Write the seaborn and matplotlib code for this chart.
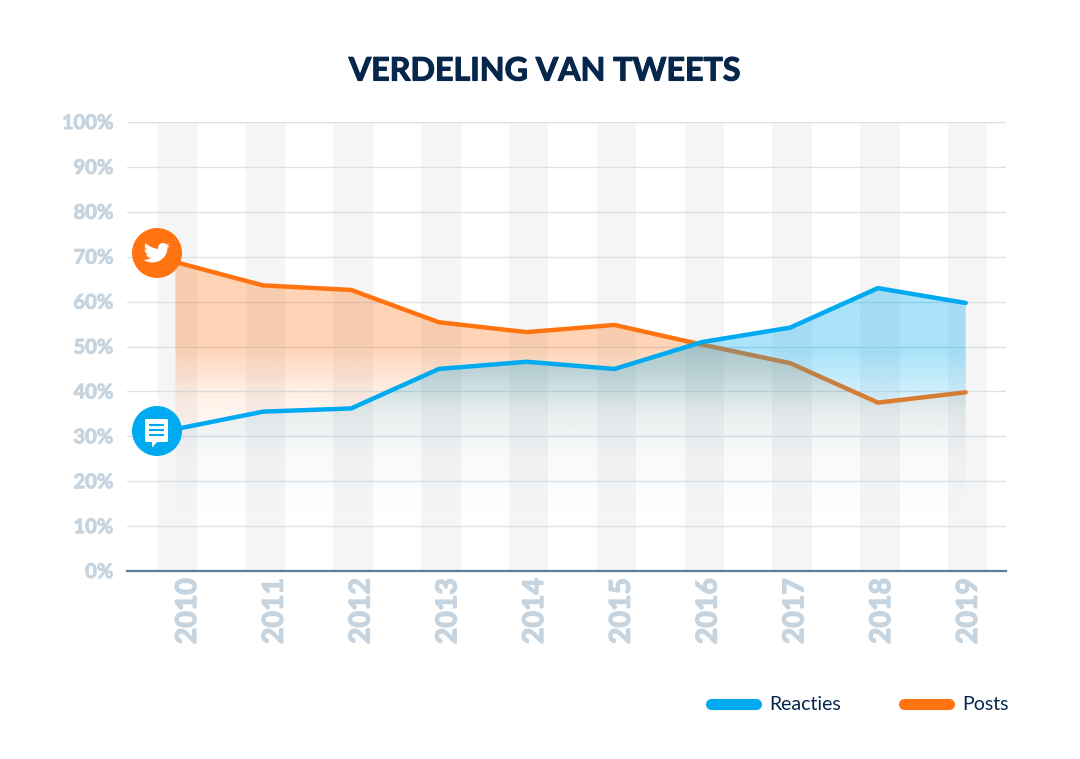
import numpy as np
import pandas as pd
import matplotlib
matplotlib.use("Agg")
import matplotlib.pyplot as plt
import matplotlib.patheffects as pe
import seaborn as sns
from matplotlib.patches import Circle, FancyBboxPatch, PathPatch, Polygon
from matplotlib.path import Path
from matplotlib.lines import Line2D
from matplotlib.transforms import Affine2D, ScaledTranslation

years = [2010, 2011, 2012, 2013, 2014, 2015, 2016, 2017, 2018, 2019]
posts = [68.8, 63.6, 62.6, 55.4, 53.2, 54.8, 50.4, 46.3, 37.5, 39.8]
reacties = [31.6, 35.5, 36.2, 45.0, 46.6, 45.0, 51.0, 54.2, 63.0, 59.7]
y_ticks = [0, 10, 20, 30, 40, 50, 60, 70, 80, 90, 100]
title_text = "VERDELING VAN TWEETS"

ORANGE = "#FF7411"
BLUE = "#00AAF0"
NAVY = "#06274B"
TICK = "#C6D4E0"
GRID = "#D8E2EB"
BAND = "#F5F5F6"
AXIS = "#5F7D99"

W, H = 1080, 759
sns.set_theme(style="white")
plt.rcParams["font.family"] = ["Lato", "DejaVu Sans"]

fig = plt.figure(figsize=(W / 100, H / 100), dpi=100, facecolor="white")
ax = fig.add_axes([127 / W, 1 - 571 / H, (1006 - 127) / W, (571 - 122) / H])
XLIM = (2009.448, 2019.459)
ax.set_xlim(*XLIM)
ax.set_ylim(0, 100)
ax.set_facecolor("white")

for yr in years:
    ax.axvspan(yr - 0.225 + 0.023, yr + 0.225 + 0.023, color=BAND, lw=0, zorder=0)
for t in y_ticks[1:]:
    ax.axhline(t, color=GRID, lw=1.0, zorder=1)


def gradient_fill(values, color, stops, z):
    """Fill under a series with a vertical alpha gradient (stops: (pct, alpha))."""
    ys = np.linspace(0, 100, 450)
    sp = sorted(stops)
    alpha = np.interp(ys, [s[0] for s in sp], [s[1] for s in sp])
    rgb = matplotlib.colors.to_rgb(color)
    img = np.zeros((450, 2, 4))
    img[..., :3] = rgb
    img[..., 3] = alpha[:, None]
    im = ax.imshow(img, origin="lower", extent=[years[0], years[-1], 0, 100],
                   aspect="auto", zorder=z, interpolation="bilinear")
    poly = ax.fill_between(years, 0, values, color="none", lw=0, zorder=z)
    clip = PathPatch(poly.get_paths()[0], transform=ax.transData, fc="none", ec="none")
    ax.add_patch(clip)
    im.set_clip_path(clip)


frame = pd.DataFrame({"year": years * 2,
                      "pct": posts + reacties,
                      "serie": ["Posts"] * 10 + ["Reacties"] * 10})

gradient_fill(posts, ORANGE,
              [(0, 0), (15, 0), (27, 0.02), (35.4, 0.07), (41, 0.13), (45.5, 0.22), (50.3, 0.31), (100, 0.31)], 2)
sns.lineplot(data=frame[frame.serie == "Posts"], x="year", y="pct", color=ORANGE, lw=3.2,
             ax=ax, zorder=3, solid_capstyle="round", errorbar=None)
gradient_fill(reacties, BLUE,
              [(0, 0), (9, 0), (15.8, 0.01), (27, 0.035), (35.4, 0.09), (42.5, 0.23), (49, 0.33), (100, 0.33)], 4)
sns.lineplot(data=frame[frame.serie == "Reacties"], x="year", y="pct", color=BLUE, lw=3.2,
             ax=ax, zorder=5, solid_capstyle="round", errorbar=None)
ax.set_xlim(*XLIM)
ax.set_ylim(0, 100)

sns.despine(ax=ax, left=True, right=True, top=True)
ax.spines["bottom"].set_color(AXIS)
ax.spines["bottom"].set_linewidth(1.6)
ax.spines["bottom"].set_zorder(6)
ax.set_xlabel("")
ax.set_ylabel("")
ax.set_xticks(years)
heavy_tick = [pe.withStroke(linewidth=1.0, foreground=TICK)]
ax.set_xticklabels([str(y) for y in years], rotation=90, fontsize=20.5, fontweight="bold",
                   color=TICK, fontfamily="Lato", path_effects=heavy_tick)
ax.set_yticks(y_ticks)
ax.set_yticklabels([f"{t}%" for t in y_ticks], fontsize=14.5, fontweight="bold",
                   color=TICK, fontfamily="Lato", path_effects=[pe.withStroke(linewidth=0.7, foreground=TICK)])
ax.tick_params(axis="both", length=0)
ax.tick_params(axis="x", pad=5)
ax.tick_params(axis="y", pad=10)
for i, lab in enumerate(ax.get_xticklabels()):
    dx_px = 12.5 - i * 1.05
    lab.set_transform(lab.get_transform() + ScaledTranslation(dx_px / 100, 0, fig.dpi_scale_trans))
for lab in ax.get_yticklabels():
    lab.set_transform(lab.get_transform() + ScaledTranslation(0, 1 / 100, fig.dpi_scale_trans))

fig.text(545 / W, 1 - 71 / H, title_text, ha="center", va="center", fontsize=23.2,
         fontweight="bold", color=NAVY, fontfamily="Lato",
         path_effects=[pe.withStroke(linewidth=0.8, foreground=NAVY)])

# icons, drawn in reference pixel coordinates
px = Affine2D().scale(1 / W, -1 / H).translate(0, 1) + fig.transFigure


def add(patch, z=10):
    patch.set_transform(px)
    patch.set_zorder(z)
    patch.set_clip_on(False)
    fig.add_artist(patch)


add(Circle((157, 253), 25, fc=ORANGE, ec="none"))
add(Circle((157, 431), 25, fc=BLUE, ec="none"))

M, C4, L, Z = Path.MOVETO, Path.CURVE4, Path.LINETO, Path.CLOSEPOLY
bird = [
    (M, (170.0, 245.5)),
    (L, (167.0, 246.3)), (L, (169.3, 243.2)), (L, (166.5, 244.6)),
    (C4, (164.5, 241.8)), (C4, (159.0, 242.5)), (C4, (158.2, 246.8)),
    (C4, (158.0, 247.5)), (C4, (158.0, 248.0)), (C4, (158.1, 248.8)),
    (C4, (153.5, 248.5)), (C4, (149.5, 246.5)), (C4, (145.5, 243.2)),
    (C4, (144.3, 245.8)), (C4, (145.0, 248.3)), (C4, (146.8, 250.0)),
    (L, (144.5, 249.5)),
    (C4, (144.8, 252.0)), (C4, (146.0, 253.5)), (C4, (148.3, 254.4)),
    (L, (146.0, 254.6)),
    (C4, (147.0, 256.8)), (C4, (148.7, 257.6)), (C4, (150.7, 257.8)),
    (C4, (149.0, 259.3)), (C4, (146.5, 260.0)), (C4, (143.5, 259.8)),
    (C4, (148.0, 263.0)), (C4, (155.0, 263.5)), (C4, (160.0, 260.5)),
    (C4, (165.0, 257.5)), (C4, (168.0, 252.0)), (C4, (167.3, 248.0)),
    (L, (170.0, 245.5)),
    (Z, (170.0, 245.5)),
]
add(PathPatch(Path([p for _, p in bird], [c for c, _ in bird]), fc="white", ec="none"), 11)

bubble = FancyBboxPatch((145, 419), 23, 23, boxstyle="round,pad=0,rounding_size=1.5",
                        fc="white", ec="none")
add(bubble, 11)
add(Polygon([(152, 440), (152, 447.5), (159, 440)], closed=True, fc="white", ec="none"), 11)
for yy in (425, 430, 435):
    ln = Line2D([148.7, 164.2], [yy, yy], color=BLUE, lw=1.5, transform=px, zorder=12,
                solid_capstyle="butt")
    fig.add_artist(ln)

# legend
handles = [Line2D([], [], color=BLUE, lw=8, solid_capstyle="round"),
           Line2D([], [], color=ORANGE, lw=8, solid_capstyle="round")]
fig.legend(handles, ["Reacties", "Posts"], ncols=2, frameon=False, prop={"family": "Lato", "size": 14},
           labelcolor=NAVY, loc="center right", bbox_to_anchor=(1009 / W, 1 - 705 / H),
           handlelength=2.3, handletextpad=0.7, columnspacing=3.25, borderpad=0, borderaxespad=0)

fig.savefig("out.png", dpi=100, facecolor="white")
